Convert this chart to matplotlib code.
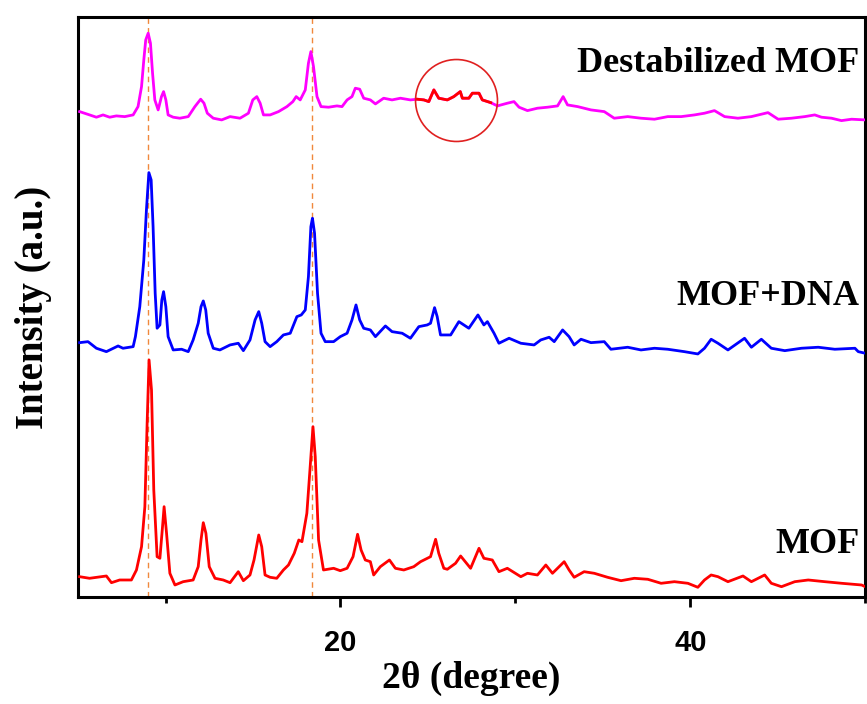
import numpy as np
import matplotlib
matplotlib.use('Agg')
import matplotlib.pyplot as plt
from matplotlib import font_manager

# 2theta / intensity (a.u.)
mof_x = [5.09, 5.66, 6.62, 6.91, 7.38, 8.05, 8.34, 8.63, 8.82, 8.95, 9.06, 9.20, 9.33, 9.52, 9.68,
         9.83, 9.92, 10.06, 10.25, 10.54, 11.01, 11.58, 11.87, 12.03, 12.16, 12.31, 12.50, 12.83,
         13.30, 13.69, 14.16, 14.45, 14.83, 15.06, 15.33, 15.50, 15.69, 15.98, 16.36, 16.74, 17.03,
         17.36, 17.62, 17.80, 18.08, 18.27, 18.43, 18.56, 18.75, 19.03, 19.61, 19.99, 20.38, 20.72,
         20.98, 21.18, 21.42, 21.71, 21.90, 22.28, 22.80, 23.14, 23.62, 24.19, 24.58, 25.15, 25.44,
         25.62, 25.91, 26.11, 26.58, 26.87, 27.44, 27.92, 28.20, 28.68, 29.06, 29.54, 30.31, 30.69,
         31.26, 31.74, 32.12, 32.79, 33.07, 33.36, 33.93, 34.51, 35.27, 36.04, 36.80, 37.57, 38.33,
         39.09, 39.86, 40.43, 40.81, 41.19, 41.58, 42.15, 43.01, 43.49, 44.25, 44.63, 45.21, 45.97,
         46.74, 47.69, 48.65, 49.79, 50.0]
mof_y = [20.3, 18.7, 21, 14.3, 17, 17, 27, 50.3, 90.3, 173.7, 237, 207, 107, 40.3, 38.7,
         70.3, 90.3, 63.7, 23.7, 12, 15.3, 17, 30.3, 57, 74.3, 63.7, 30.3, 18.7,
         17, 14.3, 25.3, 16.3, 22, 37, 62, 50.3, 22, 19.7, 18.7, 27, 32,
         43.7, 57, 55.3, 83.7, 130.3, 170.3, 140.3, 57, 27, 28.7, 26.3, 28.7, 40.3,
         62.7, 47, 37, 35.3, 22, 30.3, 37, 28.7, 27, 30.3, 35.3, 40.3, 57.7,
         43.7, 28.7, 27.7, 33.7, 41, 28.7, 48.7, 38.7, 37, 25.3, 28.7, 20.3, 23.7,
         22, 32, 23.7, 35.3, 27, 19.7, 25.3, 23.7, 19.7, 16.3, 18.7, 17.7, 13.7,
         15.3, 13.7, 9.7, 17, 22, 20.3, 15.3, 21, 15.3, 22, 13.7, 10.3, 15.3,
         17, 15.3, 13.7, 12, 10.3]

dna_x = [5.09, 5.57, 6.05, 6.62, 7.29, 7.57, 8.15, 8.28, 8.53, 8.76, 8.91, 9.05, 9.18, 9.29, 9.41,
         9.52, 9.68, 9.79, 9.89, 10.02, 10.15, 10.44, 10.92, 11.30, 11.58, 11.87, 12.03, 12.16,
         12.30, 12.44, 12.73, 13.11, 13.69, 14.16, 14.45, 14.83, 15.12, 15.33, 15.50, 15.69, 15.98,
         16.36, 16.74, 17.13, 17.51, 17.76, 17.99, 18.17, 18.31, 18.40, 18.52, 18.69, 18.89, 19.13,
         19.61, 19.99, 20.38, 20.66, 20.89, 21.10, 21.33, 21.71, 22.00, 22.57, 22.95, 23.53, 24.00,
         24.48, 24.96, 25.15, 25.38, 25.53, 25.72, 26.30, 26.77, 27.34, 27.86, 28.20, 28.40, 28.78,
         29.06, 29.64, 30.31, 31.07, 31.45, 31.93, 32.22, 32.70, 33.07, 33.36, 33.75, 34.32, 35.08,
         35.46, 36.42, 37.18, 37.95, 38.71, 39.66, 40.43, 40.81, 41.19, 41.58, 42.15, 43.10, 43.49,
         44.06, 44.63, 45.40, 46.35, 47.31, 48.26, 49.41, 49.60, 50.0]
dna_y = [24.3, 25.3, 18.7, 15.3, 21, 18.7, 20.3, 30.3, 60.3, 107, 157, 194.3, 187, 140.3, 73.7,
         38.7, 42, 67, 75.3, 60.3, 30.3, 17, 17.7, 15.3, 27, 43.7, 60.3, 66,
         57, 33.7, 18.7, 17, 22, 23.7, 16.3, 27, 47, 55.3, 43.7, 25.3, 20.3,
         25.3, 32, 33.7, 50.3, 52, 57, 90.3, 140.3, 148.7, 133.7, 73.7, 33.7, 25.3,
         25.3, 30.3, 33.7, 47, 62, 47, 38.7, 37, 30.3, 41, 35.3, 33.7, 28.7,
         40.3, 42, 43.7, 59.3, 50.3, 32, 32, 45.3, 38.7, 52, 42, 45.3, 33.7,
         23.7, 28.7, 23.7, 22, 27, 29.7, 25.3, 37, 30.3, 22, 27.7, 24.3, 25.3,
         17.7, 19.7, 17, 18.7, 17.7, 15.3, 13, 18.7, 27.7, 23.7, 17, 28.7, 19.7,
         27.7, 18.7, 16.3, 18.7, 19.7, 17.7, 18.7, 15.3, 13.7]

dest_x = [5.09, 5.66, 6.05, 6.43, 6.81, 7.19, 7.67, 8.15, 8.43, 8.63, 8.76, 8.87, 9.01, 9.14, 9.26,
          9.39, 9.58, 9.77, 9.89, 10.02, 10.15, 10.44, 10.82, 11.30, 11.68, 12.01, 12.20, 12.39,
          12.73, 13.21, 13.69, 14.26, 14.74, 14.99, 15.22, 15.41, 15.60, 15.98, 16.46, 16.94, 17.28,
          17.47, 17.70, 17.99, 18.17, 18.31, 18.46, 18.66, 18.89, 19.32, 19.80, 20.09, 20.38, 20.66,
          20.85, 21.10, 21.33, 21.71, 22.00, 22.47, 22.95, 23.43, 24.00, 24.39, 24.77, 25.05, 25.34,
          25.62, 26.11, 26.48, 26.85, 26.97, 27.34, 27.54, 27.92, 28.11, 28.59, 28.97, 29.54, 29.92,
          30.21, 30.69, 31.26, 31.84, 32.41, 32.73, 32.98, 33.56, 34.32, 35.08, 35.65, 36.42, 37.18,
          37.95, 38.71, 39.48, 40.24, 40.81, 41.38, 41.96, 42.72, 43.49, 44.44, 45.02, 45.78, 46.54,
          47.11, 47.50, 48.07, 48.64, 49.22, 50.0]
dest_y = [15.3, 12, 9.7, 12, 9.7, 11, 10.3, 12, 20.3, 40.3, 67, 87, 93.7, 83.7, 53.7,
          27, 17, 30.3, 35.3, 27, 12, 9.7, 8.7, 10.3, 20.3, 27.7, 23.7, 13.7,
          8.7, 7, 10.3, 8.7, 13.7, 27, 30.3, 23.7, 12, 12, 15.3, 20.3, 25.3,
          30.3, 27, 37, 63.7, 75.3, 60.3, 30.3, 20.3, 19.7, 21, 20.3, 27, 30.3,
          38.7, 37.7, 28.7, 27, 23, 28.7, 27, 28.7, 27, 27.7, 27, 25.3, 37,
          28.7, 27, 30.3, 35.3, 28.7, 28.7, 33.7, 33.7, 27, 24.3, 21, 23.7, 25.3,
          19.7, 16.3, 18.7, 19.7, 21, 30.3, 22, 20.3, 17, 15.3, 8.7, 10.3, 8.7,
          7.7, 10.3, 10.3, 12, 13.7, 16.3, 10.3, 8.7, 10.3, 14.3, 7.7, 8.7, 10.3,
          12, 9.7, 8.7, 6.3, 7.7, 7]

labels = ['MOF', 'MOF+DNA', 'Destabilized MOF']
offsets = [0, 230, 470]
ref_peaks = [9.0, 18.35]
highlight = (24.39, 28.59)

plt.rcParams['font.family'] = ['Liberation Serif', 'DejaVu Serif']
plt.rcParams['font.weight'] = 'bold'
names = {f.name for f in font_manager.fontManager.ttflist}
tick_font = 'Liberation Sans Narrow' if 'Liberation Sans Narrow' in names else 'Liberation Sans'

fig = plt.figure(figsize=(8.67, 7.04), dpi=100)
ax = fig.add_axes([0.090, 0.152, 0.908, 0.824])

for xp in ref_peaks:
    ax.axvline(xp, color='#f0883c', lw=1.0, ls=(0, (4, 3)), zorder=1)

ax.plot(mof_x, np.array(mof_y) + offsets[0], color='#ff0000', lw=2.0, zorder=3)
ax.plot(dna_x, np.array(dna_y) + offsets[1], color='#0000ff', lw=2.0, zorder=3)
ax.plot(dest_x, np.array(dest_y) + offsets[2], color='#ff00ff', lw=2.0, zorder=3)

# amorphous hump marked in red on the destabilized pattern
dx = np.array(dest_x)
m = (dx >= highlight[0]) & (dx <= highlight[1])
ax.plot(dx[m], np.array(dest_y)[m] + offsets[2], color='#ff0000', lw=2.0, zorder=4)
ax.plot([26.6], [497], 'o', ms=59, mfc='none', mec='#e02020', mew=1.2, zorder=5)

text_y = [52, 300, 533]
for lab, ty in zip(labels, text_y):
    ax.text(49.65, ty, lab, ha='right', va='center', fontsize=26, fontweight='bold')

ax.set_xlim(5, 50)
ax.set_ylim(0, 580)
ax.set_xticks([20, 40])
ax.set_xticks([10, 30, 50], minor=True)
ax.set_yticks([])
ax.tick_params(axis='x', which='major', direction='out', length=7, width=2, pad=16)
ax.tick_params(axis='x', which='minor', direction='out', length=4, width=2)
for t in ax.get_xticklabels():
    t.set_fontfamily(tick_font)
    t.set_fontweight('bold')
    t.set_fontsize(21)
for s in ax.spines.values():
    s.set_linewidth(2.2)

ax.set_xlabel('2θ (degree)', fontsize=27, fontweight='bold', labelpad=3)
ax.set_ylabel('Intensity (a.u.)', fontsize=28, fontweight='bold', labelpad=19)

fig.savefig('out.png', dpi=100)
